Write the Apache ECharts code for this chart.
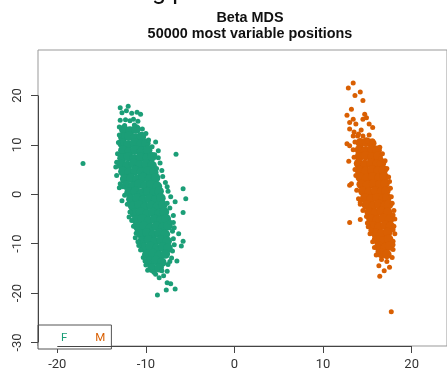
<!DOCTYPE html>
<html><head><meta charset="utf-8">
<script src="https://cdn.jsdelivr.net/npm/echarts@6/dist/echarts.min.js"></script>
<style>html,body{margin:0;padding:0;background:#fff}#c{width:447px;height:371px}</style>
</head><body><div id="c"></div>
<script>
const titleLines = ['Beta MDS', '50000 most variable positions'];
const topFragment = 'g p';
const groups = ['F', 'M'];
const groupColors = ['#1b9e77', '#d95f02'];
const xTicks = [-20, -10, 0, 10, 20];
const yTicks = [-30, -20, -10, 0, 10, 20];

// F: dense core points
const fCore = [
[-12.5,13.1],[-11.8,12.8],[-11.1,13.2],
[-12.6,11.5],[-11.9,11.8],[-11.2,11.4],[-10.5,11.7],
[-12.7,10.3],[-12.0,10.0],[-11.3,10.4],[-10.6,10.1],[-10.0,10.3],
[-12.6,8.9],[-11.9,8.6],[-11.2,9.0],[-10.5,8.7],[-9.8,8.9],
[-12.7,7.3],[-12.0,7.6],[-11.3,7.2],[-10.6,7.5],[-9.9,7.3],[-9.3,7.6],
[-12.8,6.0],[-12.1,5.8],[-11.4,6.2],[-10.7,5.9],[-10.0,6.1],[-9.3,5.8],
[-12.6,4.6],[-11.9,4.4],[-11.2,4.8],[-10.5,4.5],[-9.8,4.7],[-9.1,4.4],
[-12.4,3.1],[-11.7,3.3],[-11.0,3.0],[-10.3,3.4],[-9.6,3.1],[-8.9,3.3],
[-12.2,1.8],[-11.5,1.6],[-10.8,2.0],[-10.1,1.7],[-9.4,1.9],[-8.7,1.6],
[-11.9,0.4],[-11.2,0.6],[-10.5,0.2],[-9.8,0.5],[-9.1,0.3],[-8.5,0.6],
[-11.7,-1.0],[-11.0,-0.8],[-10.3,-1.2],[-9.6,-0.9],[-8.9,-1.1],[-8.3,-0.8],
[-11.5,-2.4],[-10.8,-2.2],[-10.1,-2.6],[-9.4,-2.3],[-8.7,-2.5],[-8.1,-2.2],
[-11.3,-3.8],[-10.6,-3.6],[-9.9,-4.0],[-9.2,-3.7],[-8.5,-3.9],[-7.9,-3.6],
[-11.1,-5.2],[-10.4,-5.0],[-9.7,-5.4],[-9.0,-5.1],[-8.3,-5.3],[-7.7,-5.0],
[-10.9,-6.6],[-10.2,-6.4],[-9.5,-6.8],[-8.8,-6.5],[-8.1,-6.7],[-7.5,-6.4],
[-10.6,-8.0],[-9.9,-7.8],[-9.2,-8.2],[-8.5,-7.9],[-7.8,-8.1],
[-10.4,-9.4],[-9.7,-9.2],[-9.0,-9.6],[-8.3,-9.3],[-7.6,-9.5],
[-10.2,-10.8],[-9.5,-10.6],[-8.8,-11.0],[-8.1,-10.7],[-7.5,-10.9],
[-9.9,-12.2],[-9.2,-12.0],[-8.5,-12.4],[-7.8,-12.1],
[-9.6,-13.6],[-8.9,-13.4],[-8.2,-13.8],
[-9.3,-15.0],[-8.5,-14.9]
];
// F: sparse / edge points
const fEdge = [
[-12.9,17.5],[-12.0,17.8],[-12.7,16.5],[-11.6,16.4],[-11.0,16.6],[-10.6,16.2],
[-12.9,15.0],[-12.3,15.1],[-11.8,14.9],[-11.4,15.2],[-10.9,14.8],[-13.0,13.6],
[-10.4,13.2],[-10.0,12.3],[-9.7,11.0],[-8.9,10.6],[-13.0,12.0],[-13.1,10.5],
[-9.3,9.6],[-8.6,8.8],[-6.6,8.1],[-13.3,6.5],[-13.4,5.5],[-8.4,6.3],[-8.6,7.4],
[-8.2,4.8],[-8.1,3.6],[-13.3,3.8],[-12.9,2.1],[-13.0,1.3],[-12.6,1.5],[-7.8,2.4],
[-5.8,1.1],[-7.5,0.6],[-7.2,-0.5],[-6.7,-1.5],[-5.5,-0.9],[-12.4,-0.2],[-12.1,-2.0],
[-7.3,-2.8],[-5.8,-3.7],[-11.8,-3.6],[-6.9,-4.3],[-6.9,-5.7],[-11.6,-5.3],
[-11.1,-7.9],[-11.4,-6.5],[-6.8,-6.8],[-6.3,-8.0],[-6.9,-9.0],[-5.8,-9.5],
[-10.9,-9.6],[-6.0,-10.5],[-7.0,-11.5],[-10.6,-11.3],[-10.3,-12.8],[-7.1,-12.9],
[-6.5,-13.5],[-10.0,-14.3],[-7.5,-14.2],[-9.8,-15.4],[-7.6,-15.6],[-8.9,-16.2],
[-8.0,-16.5],[-8.5,-16.9],[-7.6,-17.9],[-7.2,-18.1],[-7.7,-19.4],[-6.7,-19.2],
[-8.7,-20.4],[-17.1,6.2],
[-12.2,16.9],[-11.3,14.0],[-12.4,13.9],[-13.2,8.2],[-9.0,8.0],[-8.8,5.2],[-7.6,1.5],
[-12.7,-1.3],[-7.6,-1.8],[-11.9,-4.6],[-7.3,-5.6],[-7.0,-7.5],[-11.2,-8.8],
[-6.8,-10.2],[-10.8,-10.4],[-7.3,-13.6],[-10.1,-13.5],[-9.1,-15.8],[-8.2,-15.5]
];
// M: dense core points
const mCore = [
[14.2,10.4],[14.9,10.6],[15.5,10.3],
[14.1,9.0],[14.8,8.8],[15.5,9.1],[16.1,8.9],
[14.1,7.6],[14.8,7.8],[15.5,7.5],[16.2,7.7],
[14.0,6.2],[14.7,6.0],[15.4,6.3],[16.1,6.1],[16.6,6.3],
[14.1,4.8],[14.8,4.6],[15.5,4.9],[16.2,4.7],[16.8,4.9],
[14.2,3.4],[14.9,3.2],[15.6,3.5],[16.3,3.3],[16.9,3.5],
[14.3,2.0],[15.0,1.8],[15.7,2.1],[16.4,1.9],[17.0,2.1],
[14.5,0.6],[15.2,0.4],[15.9,0.7],[16.6,0.5],[17.1,0.7],
[14.7,-0.8],[15.4,-1.0],[16.1,-0.7],[16.8,-0.9],[17.2,-0.7],
[14.9,-2.2],[15.6,-2.4],[16.3,-2.1],[17.0,-2.3],[17.4,-2.1],
[15.2,-3.6],[15.9,-3.8],[16.6,-3.5],[17.3,-3.7],
[15.4,-5.0],[16.1,-5.2],[16.8,-4.9],[17.5,-5.1],
[15.6,-6.4],[16.3,-6.6],[17.0,-6.3],[17.6,-6.5],
[15.9,-7.8],[16.6,-8.0],[17.3,-7.7],
[16.1,-9.2],[16.8,-9.4],[17.4,-9.1],
[16.3,-10.6],[17.0,-10.8],[17.5,-10.5],
[16.6,-12.0],[17.2,-12.2]
];
// M: sparse / edge points
const mEdge = [
[13.4,22.5],[12.85,21.5],[14.2,20.7],[13.6,20.0],[14.5,19.0],[13.2,17.2],[12.7,16.0],
[14.7,16.2],[14.9,15.5],[14.5,15.2],[13.4,15.2],[13.0,14.5],[13.7,14.2],[15.2,14.2],
[15.6,13.5],[13.0,13.2],[13.5,12.6],[14.3,13.0],[13.4,11.8],[13.9,11.8],[14.5,11.8],
[15.0,10.8],[15.6,10.8],[12.7,10.2],[13.0,9.8],[13.4,9.0],[16.4,9.5],[16.7,8.2],
[13.5,7.5],[12.9,6.7],[17.0,6.8],[13.6,5.0],[17.2,5.2],[13.2,2.1],[17.4,3.5],
[13.8,0.8],[17.6,1.2],[13.0,1.8],[14.0,-0.9],[17.7,-0.5],[14.2,-2.0],[17.8,-1.8],
[14.5,-3.3],[18.0,-3.3],[13.0,-5.7],[14.2,-5.1],[14.9,-4.5],[18.1,-5.0],[15.1,-6.6],
[18.0,-6.5],[15.3,-8.0],[18.1,-8.0],[15.6,-9.6],[17.9,-9.5],[15.8,-10.8],[17.9,-11.2],
[16.0,-12.3],[17.8,-12.8],[16.6,-13.2],[17.2,-13.6],[16.3,-14.5],[17.5,-14.8],
[16.9,-15.5],[16.4,-16.6],[17.7,-23.8],
[14.0,12.2],[15.2,12.0],[13.6,10.6],[16.5,7.2],[13.7,3.8],[17.5,2.6],[14.2,-1.6],
[17.9,-4.2],[15.0,-5.8],[15.4,-7.3],[17.9,-7.2],[15.8,-9.0],[17.9,-10.2],[16.2,-11.6]
];

const xMin = -22.18, xMax = 23.99, yMin = -30.72, yMax = 29.2;
const chart = echarts.init(document.getElementById('c'));
const font = 'Roboto, "Liberation Sans", sans-serif';
const tickColor = '#444';

function scatter(name, data, color, size, extra) {
  return Object.assign({
    name: name, type: 'scatter', data: data, symbol: 'circle', symbolSize: size,
    itemStyle: { color: color, opacity: 1 }, emphasis: { disabled: true },
    silent: true, clip: false
  }, extra || {});
}

chart.setOption({
  animation: false,
  backgroundColor: '#fff',
  title: {
    text: titleLines.join('\n'), left: 245, top: 5, textAlign: 'center',
    textStyle: { fontFamily: '"Liberation Sans", Arial, sans-serif', fontWeight: 'bold', fontSize: 14.4, lineHeight: 16, color: '#111' }
  },
  graphic: [{
    type: 'text', x: 152, y: 5,
    style: { text: topFragment, font: '25px ' + font, fill: '#111', verticalAlign: 'bottom', align: 'left' }
  }],
  legend: {
    left: 38, bottom: 22, orient: 'horizontal',
    data: groups.map((g, i) => ({ name: g, icon: 'none', textStyle: { color: groupColors[i] } })),
    itemWidth: 0, itemHeight: 0, itemGap: 23, selectedMode: false,
    padding: [7, 6, 5, 18], borderColor: '#555', borderWidth: 1, backgroundColor: '#fff',
    textStyle: { fontFamily: font, fontSize: 11.5 }
  },
  grid: { left: 38, top: 50, width: 422, height: 299, show: true, borderColor: '#999', borderWidth: 1, backgroundColor: 'transparent' },
  xAxis: {
    type: 'value', min: xMin, max: xMax, splitLine: { show: false },
    axisLine: { show: false, onZero: false },
    axisTick: { show: true, customValues: xTicks, length: 7, lineStyle: { color: tickColor } },
    axisLabel: { customValues: xTicks, margin: 12, fontFamily: font, fontSize: 13, color: '#333' }
  },
  yAxis: {
    type: 'value', min: yMin, max: yMax, splitLine: { show: false },
    axisLine: { show: false, onZero: false },
    axisTick: { show: true, customValues: yTicks, length: 7, lineStyle: { color: tickColor } },
    axisLabel: { customValues: yTicks, rotate: 90, margin: 14, fontFamily: font, fontSize: 13, color: '#333' }
  },
  series: [
    scatter(groups[0], fCore, groupColors[0], 9.5, {
      markLine: {
        silent: true, symbol: 'none', label: { show: false }, animation: false,
        lineStyle: { color: tickColor, width: 1, type: 'solid' },
        data: [
          [{ coord: [xTicks[0], yMin] }, { coord: [xTicks[xTicks.length - 1], yMin] }],
          [{ coord: [xMin, yTicks[0]] }, { coord: [xMin, yTicks[yTicks.length - 1]] }]
        ]
      }
    }),
    scatter(groups[0], fEdge, groupColors[0], 5),
    scatter(groups[1], mCore, groupColors[1], 9.5),
    scatter(groups[1], mEdge, groupColors[1], 5)
  ]
});
</script>
</body></html>
